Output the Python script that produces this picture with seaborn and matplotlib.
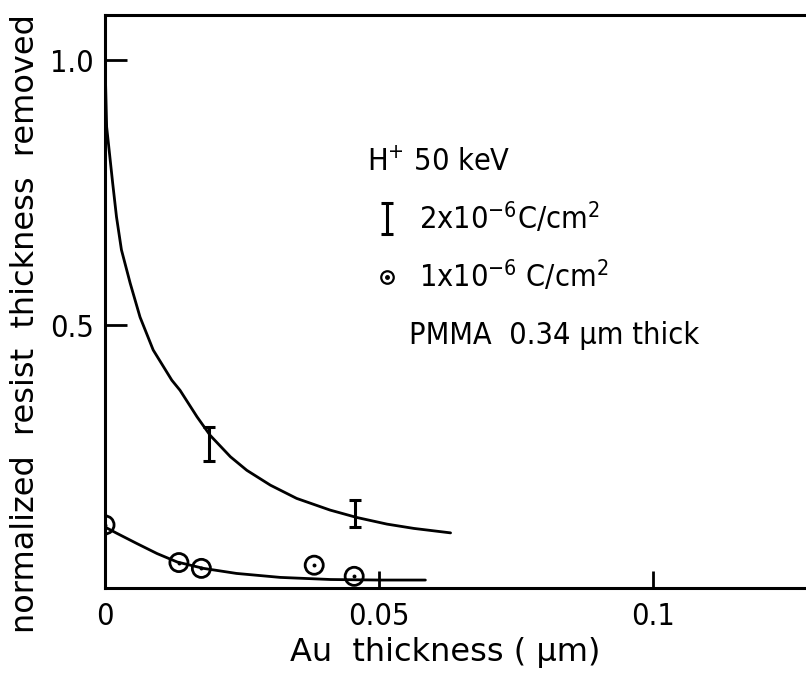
import numpy as np
import pandas as pd
import matplotlib
matplotlib.use("Agg")
import matplotlib.pyplot as plt
import seaborn as sns
from matplotlib.legend_handler import HandlerTuple
from matplotlib.lines import Line2D

# ---- data ----
# fitted curve, 2x10^-6 C/cm^2
curve_hi_x = [0.0, 0.0003, 0.0014, 0.0021, 0.003, 0.0046, 0.0064, 0.0088, 0.0122,
              0.0137, 0.0168, 0.0192, 0.0229, 0.0259, 0.0302, 0.035, 0.0411,
              0.046, 0.0515, 0.0564, 0.0631]
curve_hi_y = [1.0, 0.874, 0.768, 0.704, 0.642, 0.579, 0.515, 0.453, 0.396,
              0.377, 0.327, 0.292, 0.2516, 0.226, 0.198, 0.173, 0.151,
              0.137, 0.1245, 0.1164, 0.108]
# fitted curve, 1x10^-6 C/cm^2
curve_lo_x = [0.0, 0.0022, 0.0058, 0.0095, 0.0132, 0.018, 0.024, 0.032, 0.0412,
              0.0503, 0.0585]
curve_lo_y = [0.119, 0.107, 0.088, 0.069, 0.053, 0.041, 0.0315, 0.024, 0.020,
              0.019, 0.019]
# error-bar measurements, 2x10^-6 C/cm^2
err_x = [0.019, 0.0456]
err_y = [0.276, 0.1445]
err_e = [0.032, 0.0255]
# circle measurements, 1x10^-6 C/cm^2
circ_x = [0.0, 0.0135, 0.0176, 0.0382, 0.0455]
circ_y = [0.123, 0.052, 0.041, 0.047, 0.026]

x_ticks = [0, 0.05, 0.1]
x_ticklabels = ["0", "0.05", "0.1"]
y_ticks = [0.5, 1.0]
y_ticklabels = ["0.5", "1.0"]

sns.set_style("ticks")
plt.rcParams["font.family"] = ["DejaVu Sans"]
plt.rcParams["font.stretch"] = "condensed"
plt.rcParams["mathtext.fontset"] = "dejavusans"
for k in ["text.color", "axes.labelcolor", "xtick.color", "ytick.color",
          "axes.edgecolor"]:
    plt.rcParams[k] = "black"

fig = plt.figure(figsize=(8.06, 6.74), dpi=100)
ax = fig.add_axes([105 / 806, (674 - 588) / 674, 1 - 105 / 806, (588 - 15) / 674])

hi = pd.DataFrame({"x": curve_hi_x, "y": curve_hi_y})
lo = pd.DataFrame({"x": curve_lo_x, "y": curve_lo_y})
sns.lineplot(data=hi, x="x", y="y", ax=ax, color="black", lw=2.0, sort=False)
sns.lineplot(data=lo, x="x", y="y", ax=ax, color="black", lw=2.0, sort=False)

eb = ax.errorbar(err_x, err_y, yerr=err_e, fmt="none", ecolor="black",
                 elinewidth=2.2, capsize=4, capthick=2.2)

pts = pd.DataFrame({"x": circ_x, "y": circ_y})
sns.scatterplot(data=pts, x="x", y="y", ax=ax, marker="o", s=170,
                facecolor="none", edgecolor="black", linewidth=2.0, zorder=5)
sns.scatterplot(data=pts, x="x", y="y", ax=ax, marker="o", s=8,
                color="black", linewidth=0, zorder=6)

ax.set_xlim(0, 0.128)
ax.set_ylim(0.004, 1.085)
ax.set_xticks(x_ticks)
ax.set_xticklabels(x_ticklabels)
ax.set_yticks(y_ticks)
ax.set_yticklabels(y_ticklabels)
ax.tick_params(axis="y", direction="in", length=16, width=2, labelsize=22, pad=8)
ax.tick_params(axis="x", direction="in", length=12, width=2, labelsize=22, pad=10)
for s in ["left", "bottom", "top"]:
    ax.spines[s].set_linewidth(2.2)
    ax.spines[s].set_color("black")
ax.spines["right"].set_visible(False)

ax.set_xlabel("Au  thickness ( μm)", fontsize=23, fontstretch="normal")
ax.set_ylabel("normalized  resist  thickness  removed", fontsize=23,
              fontstretch="normal")
ax.xaxis.set_label_coords(0.485, -0.085)
ax.yaxis.set_label_coords(-0.092, 0.461)

# legend
circ_h = (Line2D([], [], marker="o", ls="none", ms=9, mfc="none", mec="black", mew=1.6),
          Line2D([], [], marker="o", ls="none", ms=2.5, color="black"))
leg = ax.legend([eb, circ_h],
                [r"2x10$^{-6}$C/cm$^{2}$", r"1x10$^{-6}$ C/cm$^{2}$"],
                handler_map={tuple: HandlerTuple(ndivide=1)},
                title=r"H$^{+}$ 50 keV", title_fontsize=22, fontsize=22,
                frameon=False, loc="upper left", bbox_to_anchor=(0.357, 0.79),
                handlelength=1.3, handletextpad=0.4, labelspacing=0.75,
                alignment="left", borderaxespad=0.0)

ax.text(0.0555, 0.48, "PMMA  0.34 μm thick", fontsize=22, va="center", ha="left")

fig.savefig("out.png", dpi=100, facecolor="white")
